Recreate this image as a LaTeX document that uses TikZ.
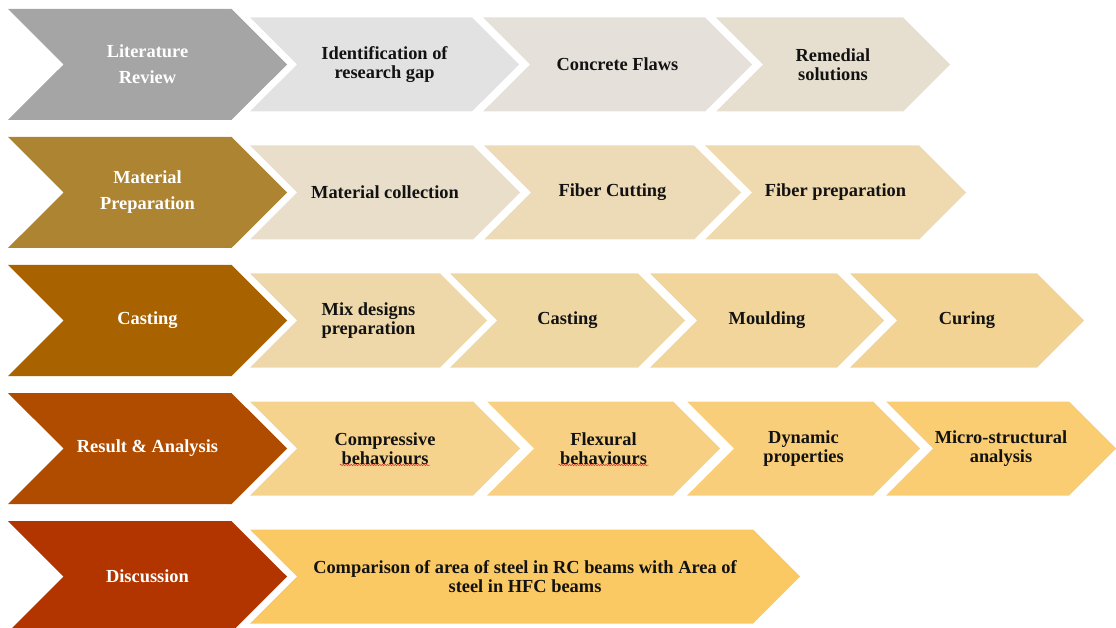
\documentclass[tikz,border=0pt]{standalone}
\usepackage{fontspec}
\setmainfont{Liberation Serif}
\usetikzlibrary{shapes.symbols,positioning,decorations.pathmorphing}

\definecolor{spell}{HTML}{D03030}
% phase colours
\definecolor{litc}{HTML}{A5A5A5}
\definecolor{matc}{HTML}{AD8431}
\definecolor{castc}{HTML}{A86300}
\definecolor{resc}{HTML}{AF4C00}
\definecolor{discc}{HTML}{B23500}

\begin{document}
\begin{tikzpicture}[x=1pt,y=-1pt,node distance=11pt,
    chev/.style={signal, signal from=west, signal to=east, signal pointer angle=90,
        inner sep=0pt, outer sep=0pt, align=center},
    phase/.style={chev, minimum width=279pt, minimum height=111pt, text=white,
        font=\fontsize{18.4}{26}\selectfont\bfseries},
    task/.style={chev, minimum height=94pt, text=black!93,
        font=\fontsize{18.4}{19.5}\selectfont\bfseries},
    spellmark/.style={spell, line width=0.5pt, decorate,
        decoration={snake, amplitude=0.7pt, segment length=2.6pt}}]
    \useasboundingbox (0,0) rectangle (1116,628);

    % literature review
    \node[phase, fill=litc] (lit) at (147.5,64.5) {Literature\\Review};
    \node[task, fill={rgb,255:red,226;green,226;blue,226}, minimum width=269pt] (gap) [right=10pt of lit] {Identification of\\research gap};
    \node[task, fill={rgb,255:red,229;green,225;blue,218}, minimum width=269pt] (flaw) [right=of gap] {Concrete Flaws};
    \node[task, fill={rgb,255:red,230;green,223;blue,208}, minimum width=234pt] (remedy) [right=of flaw] {Remedial\\solutions};

    % material preparation
    \node[phase, fill=matc] (mat) at (147.5,192.5) {Material\\Preparation};
    \node[task, fill={rgb,255:red,232;green,222;blue,201}, minimum width=270pt] (collect) [right=10pt of mat] {Material collection};
    \node[task, fill={rgb,255:red,237;green,218;blue,182}, minimum width=257pt] (cut) [right=of collect] {Fiber Cutting};
    \node[task, fill={rgb,255:red,239;green,217;blue,174}, minimum width=261pt] (fprep) [right=of cut] {Fiber preparation};

    % casting
    \node[phase, fill=castc] (cast) at (147.5,320.5) {Casting};
    \node[task, fill={rgb,255:red,238;green,216;blue,169}, minimum width=237pt] (mix) [right=10pt of cast] {Mix designs\\preparation};
    \node[task, fill={rgb,255:red,239;green,215;blue,163}, minimum width=235pt] (pour) [right=10pt of mix] {Casting};
    \node[task, fill={rgb,255:red,241;green,213;blue,154}, minimum width=234pt] (mould) [right=12pt of pour] {Moulding};
    \node[task, fill={rgb,255:red,242;green,211;blue,147}, minimum width=234pt] (cure) [right=13pt of mould] {Curing};

    % result and analysis
    \node[phase, fill=resc] (res) at (147.5,448.5) {Result \& Analysis};
    \node[task, fill={rgb,255:red,246;green,211;blue,140}, minimum width=270pt] (comp) [right=10pt of res] {Compressive\\behaviours};
    \node[task, fill={rgb,255:red,247;green,208;blue,131}, minimum width=233pt] (flex) [right=14pt of comp] {Flexural\\behaviours};
    \node[task, fill={rgb,255:red,249;green,206;blue,122}, minimum width=233pt] (dyn) [right=14pt of flex] {Dynamic\\properties};
    \node[task, fill={rgb,255:red,250;green,205;blue,114}, minimum width=230pt] (micro) [right=13pt of dyn] {Micro-structural\\analysis};
    \draw[spellmark] ([shift={(-45pt,-16.5pt)}]comp.center) -- ++(90pt,0);
    \draw[spellmark] ([shift={(-45pt,-16.5pt)}]flex.center) -- ++(90pt,0);

    % discussion
    \node[phase, fill=discc] (disc) at (147.5,576.5) {Discussion};
    \node[task, fill={rgb,255:red,251;green,201;blue,100}, minimum width=550pt] (steel) [right=10pt of disc] {Comparison of area of steel in RC beams with Area of\\steel in HFC beams};
\end{tikzpicture}
\end{document}
